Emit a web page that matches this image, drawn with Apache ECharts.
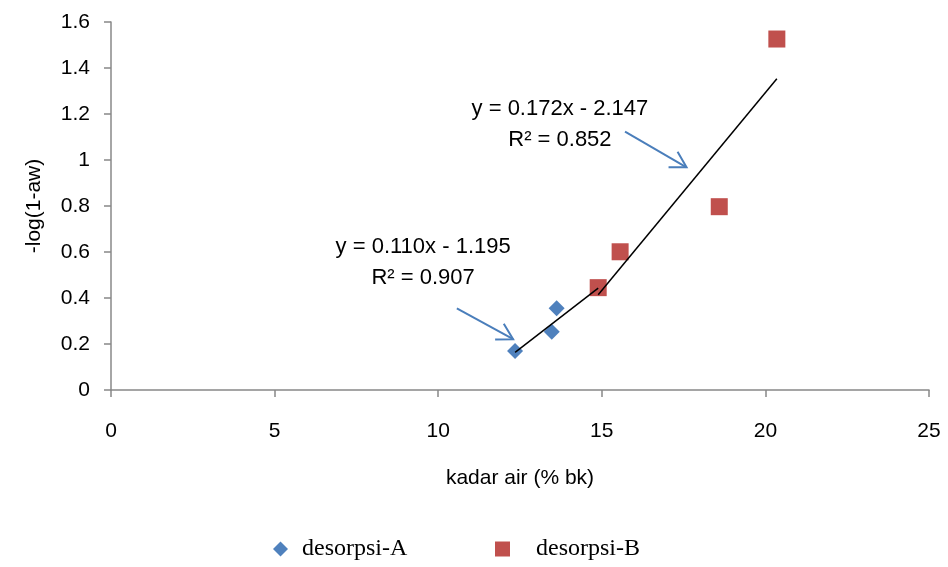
<!DOCTYPE html>
<html>
<head>
<meta charset="utf-8">
<script src="https://cdn.jsdelivr.net/npm/echarts@6/dist/echarts.min.js"></script>
<style>html,body{margin:0;padding:0;background:#fff}#c{width:948px;height:567px}</style>
</head>
<body>
<div id="c"></div>
<script>
// ---- data ----
const seriesNames = ['desorpsi-A', 'desorpsi-B'];
const xA = [12.35, 13.47, 13.62, 14.89];
const yA = [0.170, 0.253, 0.355, 0.445];
const xB = [14.89, 15.56, 18.59, 20.35];
const yB = [0.445, 0.601, 0.797, 1.526];
const trendSlope = [0.110, 0.172];
const trendIntercept = [-1.195, -2.147];
const trendR2 = ['0.907', '0.852'];
const xTicks = [0, 5, 10, 15, 20, 25];
const yTicks = [0, 0.2, 0.4, 0.6, 0.8, 1, 1.2, 1.4, 1.6];
// annotations: [anchorX, anchorY] in data units, arrows [x0,y0,x1,y1]
const annotA = [9.54, 0.555];
const annotB = [13.72, 1.154];
const arrowA = [10.57, 0.355, 12.29, 0.221];
const arrowB = [15.71, 1.123, 17.59, 0.968];

const FONT = '"Liberation Sans", Arial, sans-serif';
const SERIF = '"Liberation Serif", "Times New Roman", serif';
const pairs = (xs, ys) => xs.map((x, i) => [x, ys[i]]);
const trendLine = (xs, k) => {
  const lo = Math.min(...xs), hi = Math.max(...xs);
  return [[lo, trendSlope[k] * lo + trendIntercept[k]], [hi, trendSlope[k] * hi + trendIntercept[k]]];
};
const eqText = k => 'y = ' + trendSlope[k].toFixed(3) + 'x - ' + Math.abs(trendIntercept[k]).toFixed(3) + '\nR² = ' + trendR2[k];

const chart = echarts.init(document.getElementById('c'));
const axisLineStyle = {color: '#888888', width: 1.5};
chart.setOption({
  animation: false,
  backgroundColor: '#fff',
  grid: {left: 111, right: 19, top: 22, bottom: 177, containLabel: false},
  xAxis: {
    type: 'value', min: xTicks[0], max: xTicks[xTicks.length - 1], interval: 5,
    name: 'kadar air (% bk)', nameLocation: 'middle', nameGap: 78,
    nameTextStyle: {fontFamily: FONT, fontSize: 21, color: '#000'},
    axisLine: {show: true, lineStyle: axisLineStyle},
    axisTick: {show: true, length: 7, lineStyle: axisLineStyle},
    axisLabel: {fontFamily: FONT, fontSize: 21, color: '#000', margin: 31},
    splitLine: {show: false}
  },
  yAxis: {
    type: 'value', min: yTicks[0], max: yTicks[yTicks.length - 1], interval: 0.2,
    name: '-log(1-aw)', nameLocation: 'middle', nameGap: 66, nameRotate: 90,
    nameTextStyle: {fontFamily: FONT, fontSize: 21, color: '#000'},
    axisLine: {show: true, onZero: false, lineStyle: axisLineStyle},
    axisTick: {show: true, length: 7, lineStyle: axisLineStyle},
    axisLabel: {fontFamily: FONT, fontSize: 21, color: '#000', margin: 21,
      formatter: v => String(Math.round(v * 10) / 10)},
    splitLine: {show: false}
  },
  legend: [
    {data: [{name: seriesNames[0], icon: 'diamond'}], left: 268, top: 532, itemWidth: 15, itemHeight: 15,
     itemGap: 0, textStyle: {fontFamily: SERIF, fontSize: 24, color: '#000', padding: [0, 0, 0, 9]}},
    {data: [{name: seriesNames[1], icon: 'rect'}], left: 490, top: 532, itemWidth: 15, itemHeight: 15,
     itemGap: 0, textStyle: {fontFamily: SERIF, fontSize: 24, color: '#000', padding: [0, 0, 0, 21]}}
  ],
  series: [
    {name: 'trendA', type: 'line', data: trendLine(xA, 0), symbol: 'none', silent: true,
     lineStyle: {color: '#000', width: 1.5}, z: 3},
    {name: 'trendB', type: 'line', data: trendLine(xB, 1), symbol: 'none', silent: true,
     lineStyle: {color: '#000', width: 1.5}, z: 3},
    {name: seriesNames[0], type: 'scatter', data: pairs(xA, yA), symbol: 'diamond', symbolSize: 16,
     itemStyle: {color: '#4F81BD', opacity: 1}, z: 2},
    {name: seriesNames[1], type: 'scatter', data: pairs(xB, yB), symbol: 'rect', symbolSize: 17,
     itemStyle: {color: '#C0504D', opacity: 1}, z: 2},
    {name: 'annot', type: 'custom', silent: true, z: 5,
     data: [[annotA[0], annotA[1], 0], [annotB[0], annotB[1], 1]],
     renderItem: (params, api) => {
       const p = api.coord([api.value(0), api.value(1)]);
       return {type: 'text', x: p[0], y: p[1], style: {text: eqText(api.value(2)), fontFamily: FONT, fontSize: 22,
         fill: '#000', align: 'center', verticalAlign: 'middle', lineHeight: 31}};
     }},
    {name: 'arrows', type: 'custom', silent: true, z: 5,
     data: [arrowA, arrowB],
     renderItem: (params, api) => {
       const a = api.coord([api.value(0), api.value(1)]);
       const b = api.coord([api.value(2), api.value(3)]);
       const ang = Math.atan2(b[1] - a[1], b[0] - a[0]);
       const L = 18, s = Math.PI / 6;
       const h1 = [b[0] - L * Math.cos(ang - s), b[1] - L * Math.sin(ang - s)];
       const h2 = [b[0] - L * Math.cos(ang + s), b[1] - L * Math.sin(ang + s)];
       const st = {stroke: '#4A7EBB', lineWidth: 2, fill: null};
       return {type: 'group', children: [
         {type: 'line', shape: {x1: a[0], y1: a[1], x2: b[0], y2: b[1]}, style: st},
         {type: 'polyline', shape: {points: [h1, b, h2]}, style: st}
       ]};
     }}
  ]
});
</script>
</body>
</html>
